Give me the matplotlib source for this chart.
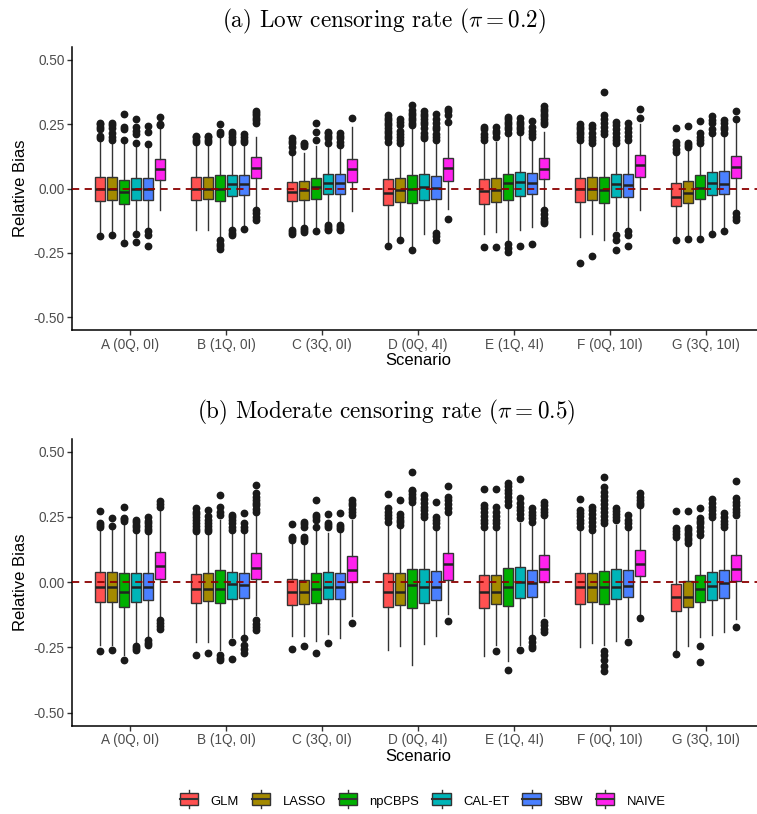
import numpy as np
import matplotlib
matplotlib.use("Agg")
import matplotlib.pyplot as plt
from matplotlib.patches import Rectangle
from matplotlib.lines import Line2D
from matplotlib.legend_handler import HandlerBase

plt.rcParams["font.family"] = ["Liberation Sans", "DejaVu Sans"]
plt.rcParams["mathtext.fontset"] = "cm"

scenarios = ["A (0Q, 0I)", "B (1Q, 0I)", "C (3Q, 0I)", "D (0Q, 4I)",
             "E (1Q, 4I)", "F (0Q, 10I)", "G (3Q, 10I)"]
methods = ["GLM", "LASSO", "npCBPS", "CAL-ET", "SBW", "NAIVE"]
colors = ["#FF5151", "#A48A00", "#00B000", "#00B5B8", "#4A80FF", "#FF22EE"]

# panel (a): low censoring, rows = scenario, cols = method
q3_a = [[0.045, 0.045, 0.032, 0.040, 0.040, 0.113],
        [0.043, 0.045, 0.052, 0.052, 0.052, 0.123],
        [0.026, 0.030, 0.042, 0.056, 0.056, 0.113],
        [0.035, 0.039, 0.052, 0.056, 0.050, 0.117],
        [0.035, 0.039, 0.058, 0.065, 0.062, 0.117],
        [0.042, 0.043, 0.045, 0.058, 0.058, 0.130],
        [0.020, 0.029, 0.052, 0.065, 0.069, 0.126]]
med_a = [[0.000, 0.000, -0.015, 0.000, 0.000, 0.074],
         [0.000, 0.000, 0.000, 0.017, 0.017, 0.078],
         [-0.013, -0.006, 0.004, 0.020, 0.020, 0.074],
         [-0.016, -0.004, 0.000, 0.006, 0.003, 0.078],
         [-0.010, -0.004, 0.022, 0.026, 0.022, 0.075],
         [-0.003, 0.000, -0.004, 0.017, 0.013, 0.091],
         [-0.032, -0.017, 0.003, 0.022, 0.017, 0.084]]
q1_a = [[-0.048, -0.045, -0.060, -0.045, -0.043, 0.032],
        [-0.045, -0.042, -0.050, -0.030, -0.026, 0.039],
        [-0.048, -0.043, -0.042, -0.023, -0.023, 0.026],
        [-0.065, -0.052, -0.058, -0.043, -0.040, 0.030],
        [-0.060, -0.052, -0.045, -0.030, -0.023, 0.035],
        [-0.052, -0.045, -0.055, -0.032, -0.032, 0.045],
        [-0.069, -0.058, -0.039, -0.026, -0.023, 0.039]]
hi_a = [[0.185, 0.180, 0.180, 0.165, 0.160, 0.235],
        [0.170, 0.170, 0.200, 0.170, 0.170, 0.200],
        [0.130, 0.138, 0.165, 0.165, 0.160, 0.240],
        [0.170, 0.160, 0.230, 0.180, 0.180, 0.245],
        [0.180, 0.180, 0.200, 0.210, 0.190, 0.220],
        [0.180, 0.170, 0.200, 0.170, 0.180, 0.250],
        [0.130, 0.150, 0.165, 0.200, 0.210, 0.255]]
lo_a = [[-0.170, -0.170, -0.200, -0.165, -0.155, -0.085],
        [-0.163, -0.163, -0.190, -0.150, -0.140, -0.070],
        [-0.150, -0.145, -0.150, -0.130, -0.130, -0.087],
        [-0.210, -0.190, -0.230, -0.175, -0.160, -0.078],
        [-0.175, -0.170, -0.200, -0.160, -0.150, -0.075],
        [-0.190, -0.175, -0.200, -0.160, -0.150, -0.082],
        [-0.190, -0.185, -0.180, -0.165, -0.155, -0.085]]
out_a = [
    [[0.195, 0.205, 0.230, 0.240, 0.250, 0.255, -0.185],
     [0.190, 0.200, 0.215, 0.235, 0.245, 0.255, -0.182],
     [0.190, 0.230, 0.240, 0.290, -0.210],
     [0.175, 0.210, 0.225, 0.240, 0.272, -0.175, -0.208],
     [0.173, 0.220, 0.243, -0.165, -0.180, -0.223],
     [0.245, 0.250, 0.277]],
    [[0.180, 0.190, 0.200, 0.205],
     [0.180, 0.190, 0.200, 0.205],
     [0.210, 0.220, 0.250, -0.200, -0.215, -0.225, -0.234],
     [0.180, 0.190, 0.200, 0.210, 0.220, -0.163, -0.172, -0.180],
     [0.180, 0.190, 0.200, 0.210, -0.158],
     [0.255, 0.265, 0.275, 0.285, 0.295, 0.300, -0.085, -0.095, -0.110, -0.123]],
    [[0.140, 0.160, 0.175, 0.185, 0.195, -0.160, -0.168, -0.175],
     [0.165, 0.172, 0.178, -0.155, -0.162, -0.170],
     [0.188, 0.218, 0.253, -0.166],
     [0.178, 0.195, 0.205, 0.215, 0.220, -0.140, -0.150, -0.158, -0.163],
     [0.170, 0.180, 0.195, 0.205, 0.215, -0.140, -0.150, -0.158, -0.163],
     [0.275]],
    [[0.180, 0.195, 0.205, 0.215, 0.225, 0.235, 0.245, 0.255, 0.265, 0.275, 0.285, -0.223],
     [0.175, 0.190, 0.200, 0.210, 0.225, 0.245, 0.258, 0.270, -0.200],
     [0.245, 0.255, 0.265, 0.275, 0.285, 0.295, 0.305, 0.325, -0.240],
     [0.195, 0.205, 0.215, 0.235, 0.250, 0.260, 0.270, 0.280, 0.290, 0.300],
     [0.190, 0.200, 0.210, 0.230, 0.240, 0.255, 0.270, 0.290, -0.173, -0.185, -0.200],
     [0.260, 0.285, 0.300, 0.310, -0.120]],
    [[0.190, 0.200, 0.210, 0.230, 0.240, -0.227],
     [0.200, 0.215, 0.225, 0.238, -0.227],
     [0.215, 0.230, 0.240, 0.250, 0.260, 0.270, 0.277, -0.215, -0.230, -0.247],
     [0.220, 0.230, 0.240, 0.250, 0.260, 0.273, -0.222],
     [0.200, 0.210, 0.225, 0.240, 0.264, -0.217],
     [0.250, 0.260, 0.270, 0.280, 0.290, 0.300, 0.310, 0.320,
      -0.085, -0.100, -0.115, -0.125, -0.136]],
    [[0.190, 0.200, 0.210, 0.220, 0.230, 0.240, 0.250, -0.290],
     [0.175, 0.190, 0.200, 0.215, 0.235, 0.247, -0.264],
     [0.210, 0.225, 0.240, 0.255, 0.270, 0.285, 0.377],
     [0.175, 0.190, 0.200, 0.215, 0.230, 0.245, 0.260, -0.180, -0.200, -0.238],
     [0.190, 0.205, 0.220, 0.235, 0.255, -0.166, -0.180, -0.223],
     [0.273, 0.310]],
    [[0.140, 0.155, 0.170, 0.180, 0.234, -0.200],
     [0.160, 0.170, 0.178, 0.244, -0.195],
     [0.175, 0.190, 0.200, 0.215, 0.264, -0.197],
     [0.215, 0.230, 0.255, 0.268, 0.280, -0.175],
     [0.217, 0.230, 0.240, 0.255, 0.266, -0.166],
     [0.270, 0.303, -0.097, -0.110, -0.123]],
]

# panel (b): moderate censoring
q3_b = [[0.041, 0.041, 0.034, 0.037, 0.037, 0.114],
        [0.032, 0.034, 0.045, 0.038, 0.037, 0.111],
        [0.011, 0.009, 0.034, 0.038, 0.037, 0.102],
        [0.034, 0.034, 0.050, 0.050, 0.043, 0.111],
        [0.028, 0.028, 0.056, 0.057, 0.047, 0.103],
        [0.037, 0.037, 0.043, 0.050, 0.047, 0.124],
        [-0.006, 0.003, 0.028, 0.041, 0.045, 0.105]]
med_b = [[-0.019, -0.019, -0.036, -0.020, -0.020, 0.064],
         [-0.026, -0.026, -0.026, -0.006, -0.010, 0.056],
         [-0.038, -0.038, -0.026, -0.017, -0.019, 0.047],
         [-0.036, -0.036, -0.010, -0.017, -0.017, 0.070],
         [-0.036, -0.036, -0.017, 0.000, -0.004, 0.050],
         [-0.019, -0.019, -0.019, -0.017, -0.014, 0.070],
         [-0.057, -0.057, -0.026, -0.014, -0.004, 0.050]]
q1_b = [[-0.074, -0.074, -0.096, -0.075, -0.069, 0.013],
        [-0.078, -0.073, -0.080, -0.065, -0.061, 0.011],
        [-0.088, -0.084, -0.080, -0.064, -0.064, 0.000],
        [-0.096, -0.087, -0.100, -0.080, -0.070, 0.009],
        [-0.100, -0.084, -0.093, -0.061, -0.057, 0.000],
        [-0.084, -0.077, -0.083, -0.065, -0.057, 0.024],
        [-0.112, -0.096, -0.077, -0.068, -0.061, 0.005]]
hi_b = [[0.210, 0.200, 0.230, 0.200, 0.190, 0.280],
        [0.190, 0.190, 0.240, 0.190, 0.190, 0.270],
        [0.155, 0.150, 0.200, 0.190, 0.190, 0.240],
        [0.220, 0.210, 0.300, 0.235, 0.200, 0.260],
        [0.200, 0.200, 0.290, 0.225, 0.220, 0.245],
        [0.200, 0.190, 0.220, 0.220, 0.200, 0.280],
        [0.160, 0.140, 0.170, 0.240, 0.200, 0.240]]
lo_b = [[-0.240, -0.240, -0.280, -0.230, -0.210, -0.130],
        [-0.230, -0.230, -0.260, -0.210, -0.200, -0.125],
        [-0.208, -0.205, -0.225, -0.200, -0.214, -0.130],
        [-0.261, -0.244, -0.316, -0.236, -0.205, -0.120],
        [-0.281, -0.240, -0.303, -0.240, -0.200, -0.130],
        [-0.249, -0.233, -0.240, -0.227, -0.210, -0.120],
        [-0.260, -0.244, -0.210, -0.204, -0.189, -0.140]]
out_b = [
    [[0.213, 0.220, 0.226, 0.274, -0.265],
     [0.215, 0.247, -0.259],
     [0.235, 0.241, 0.247, 0.287, -0.300],
     [0.200, 0.210, 0.220, 0.230, 0.240, -0.246, -0.253, -0.259],
     [0.195, 0.205, 0.215, 0.225, 0.235, 0.250, -0.223, -0.232, -0.240],
     [0.290, 0.300, 0.310, -0.144, -0.155, -0.168, -0.178]],
    [[0.195, 0.205, 0.215, 0.225, 0.240, 0.250, 0.260, 0.270, 0.283, -0.278],
     [0.195, 0.205, 0.215, 0.225, 0.240, 0.255, 0.277, -0.272],
     [0.258, 0.270, 0.290, 0.334, -0.278, -0.290, -0.300],
     [0.200, 0.210, 0.225, 0.240, 0.250, 0.258, -0.230, -0.295],
     [0.200, 0.210, 0.225, 0.264, -0.214, -0.240, -0.255, -0.272],
     [0.270, 0.280, 0.296, 0.305, 0.315, 0.325, 0.340, 0.372,
      -0.144, -0.160, -0.172, -0.185]],
    [[0.162, 0.170, 0.175, 0.222, -0.256],
     [0.156, 0.165, 0.175, 0.213, 0.222, 0.232, -0.244],
     [0.213, 0.238, 0.250, 0.258, 0.315, -0.272],
     [0.210, 0.220, 0.228, 0.262, -0.233],
     [0.203, 0.212, 0.220, 0.267],
     [0.258, 0.270, 0.282, 0.295, 0.305, 0.315, -0.157]],
    [[0.232, 0.245, 0.258, 0.270, 0.283, 0.338],
     [0.219, 0.230, 0.240, 0.250, 0.262, 0.315],
     [0.309, 0.318, 0.328, 0.338, 0.348, 0.353, 0.423],
     [0.251, 0.262, 0.275, 0.290, 0.305, 0.320, 0.334],
     [0.213, 0.225, 0.240, 0.251, 0.309],
     [0.270, 0.285, 0.300, 0.315, 0.328, 0.369, -0.148]],
    [[0.213, 0.225, 0.240, 0.255, 0.270, 0.285, 0.296, 0.356],
     [0.213, 0.225, 0.240, 0.255, 0.270, 0.287, 0.356, -0.265],
     [0.296, 0.310, 0.325, 0.340, 0.355, 0.370, 0.381, -0.335],
     [0.245, 0.260, 0.275, 0.290, 0.305, 0.321, 0.394, -0.259],
     [0.232, 0.245, 0.258, 0.270, 0.283, -0.214, -0.230, -0.245, -0.253],
     [0.258, 0.270, 0.282, 0.295, 0.306, -0.153, -0.165, -0.178, -0.189]],
    [[0.213, 0.225, 0.240, 0.255, 0.265, 0.277, 0.319],
     [0.200, 0.215, 0.230, 0.245, 0.260, 0.275, 0.290],
     [0.226, 0.240, 0.255, 0.270, 0.285, 0.300, 0.315, 0.330, 0.345, 0.366, 0.402,
      -0.265, -0.280, -0.300, -0.320, -0.342],
     [0.238, 0.250, 0.262, 0.272, 0.283],
     [0.213, 0.225, 0.240, 0.258, -0.230],
     [0.296, 0.305, 0.315, 0.325, 0.340, -0.138]],
    [[0.175, 0.185, 0.195, 0.207, 0.274, -0.275],
     [0.149, 0.160, 0.170, 0.180, 0.190, 0.200, 0.207, 0.274],
     [0.181, 0.195, 0.210, 0.225, 0.235, 0.245, 0.283, -0.244, -0.304],
     [0.251, 0.262, 0.275, 0.290, 0.305, 0.318],
     [0.210, 0.222, 0.235, 0.248, 0.267],
     [0.258, 0.270, 0.282, 0.295, 0.308, 0.321, 0.389, -0.170]],
]

titles = [r"(a) Low censoring rate ($\pi = 0.2$)",
          r"(b) Moderate censoring rate ($\pi = 0.5$)"]


class BoxHandler(HandlerBase):
    def create_artists(self, legend, orig, xd, yd, w, h, fontsize, trans):
        fc = orig.get_facecolor()
        bw, bh = w * 0.9, h * 1.05
        x0, y0 = xd + (w - bw) / 2, yd + (h - bh) / 2
        rect = Rectangle((x0, y0), bw, bh, facecolor=fc, edgecolor="#333333",
                         lw=1.0, transform=trans)
        mid = Line2D([x0, x0 + bw], [y0 + bh / 2] * 2, color="#333333", lw=1.5,
                     transform=trans)
        cx = xd + w / 2
        up = Line2D([cx, cx], [y0 + bh, y0 + bh + h * 0.3], color="#333333",
                    lw=1.0, transform=trans)
        dn = Line2D([cx, cx], [y0, y0 - h * 0.3], color="#333333", lw=1.0,
                    transform=trans)
        return [up, dn, rect, mid]


def draw_panel(ax, q1, med, q3, lo, hi, out):
    slot = 0.125
    for j, m in enumerate(methods):
        stats, pos = [], []
        for i in range(len(scenarios)):
            stats.append(dict(med=med[i][j], q1=q1[i][j], q3=q3[i][j],
                              whislo=lo[i][j], whishi=hi[i][j],
                              fliers=out[i][j]))
            pos.append(i + 1 + (j - 2.5) * slot)
        ax.bxp(stats, positions=pos, widths=0.112, patch_artist=True,
               showcaps=False,
               boxprops=dict(facecolor=colors[j], edgecolor="#333333", lw=1.0),
               whiskerprops=dict(color="#333333", lw=1.0),
               medianprops=dict(color="#222222", lw=1.8),
               flierprops=dict(marker="o", markerfacecolor="#1a1a1a",
                               markeredgecolor="#1a1a1a", markersize=4.6),
               zorder=3)
    ax.axhline(0, color="#8B0000", ls=(0, (4, 3)), lw=1.3, zorder=4)
    ax.set_xlim(0.4, 7.6)
    ax.set_ylim(-0.55, 0.55)
    ax.set_yticks([-0.5, -0.25, 0, 0.25, 0.5])
    ax.set_yticklabels(["-0.50", "-0.25", "0.00", "0.25", "0.50"])
    ax.set_xticks(range(1, 8))
    ax.set_xticklabels(scenarios)
    ax.tick_params(axis="both", labelsize=9.8, labelcolor="#4d4d4d",
                   length=3.5, width=1.0, color="#333333", pad=2)
    for s in ["top", "right"]:
        ax.spines[s].set_visible(False)
    for s in ["left", "bottom"]:
        ax.spines[s].set_linewidth(1.1)
    ax.set_ylabel("Relative Bias", fontsize=12, labelpad=4)
    ax.set_xlabel("Scenario", fontsize=12, labelpad=1)


W, H = 757, 814
fig = plt.figure(figsize=(W / 100, H / 100), dpi=100)
ax_left = 72.4 / W
ax_w = 691.2 / W
ax1 = fig.add_axes([ax_left, 1 - 330 / H, ax_w, 283 / H])
ax2 = fig.add_axes([ax_left, 1 - 725.7 / H, ax_w, 287 / H])
draw_panel(ax1, q1_a, med_a, q3_a, lo_a, hi_a, out_a)
draw_panel(ax2, q1_b, med_b, q3_b, lo_b, hi_b, out_b)

fig.text(384 / W, 1 - 21 / H, titles[0], fontsize=16.7, family="cmr10",
         ha="center", va="center")
fig.text(386 / W, 1 - 412 / H, titles[1], fontsize=16.7, family="cmr10",
         ha="center", va="center")

handles = [Rectangle((0, 0), 1, 1, facecolor=c) for c in colors]
fig.legend(handles, methods, handler_map={Rectangle: BoxHandler()},
           loc="center", bbox_to_anchor=(422 / W, 1 - 802 / H), ncol=6,
           frameon=False, fontsize=9.4, handlelength=1.6, handleheight=0.9,
           handletextpad=0.85, columnspacing=0.9)

fig.savefig("out.png", dpi=100)
